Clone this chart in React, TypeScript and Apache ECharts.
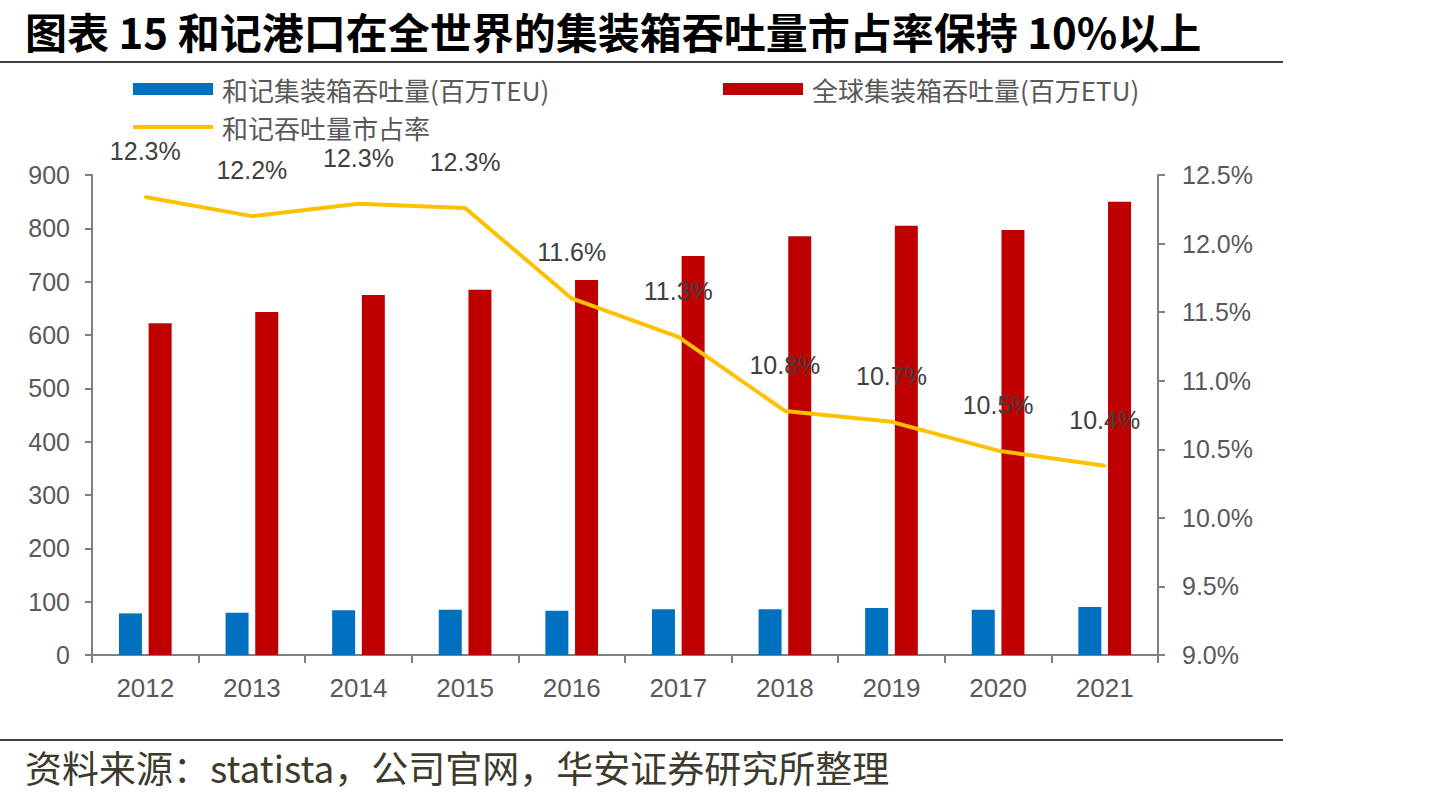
import React, { useEffect, useRef } from "react";
import * as echarts from "echarts";

const years = ["2012", "2013", "2014", "2015", "2016", "2017", "2018", "2019", "2020", "2021"];
const hutchisonTEU = [78, 79, 84, 85, 83, 86, 86, 88, 85, 90];
const globalTEU = [622, 643, 675, 685, 703, 748, 785, 805, 797, 850];
const marketShare = [12.34, 12.2, 12.29, 12.26, 11.6, 11.32, 10.78, 10.7, 10.49, 10.38];

const seriesNames = ["和记集装箱吞吐量(百万TEU)", "全球集装箱吞吐量(百万ETU)", "和记吞吐量市占率"];
const titleText = "图表 15 和记港口在全世界的集装箱吞吐量市占率保持 10%以上";
const sourceText = "资料来源：statista，公司官网，华安证券研究所整理";

const CJK = '"Noto Sans CJK SC", "Noto Sans", sans-serif';
const NUM = '"Liberation Sans", Arial, sans-serif';

export default function App() {
  const ref = useRef<HTMLDivElement>(null);
  useEffect(() => {
    if (!ref.current) return;
    const chart = echarts.init(ref.current, null, { renderer: "svg" });
    const axisColor = "#808080";
    const labelColor = "#595959";
    const legendCommon = {
      orient: "horizontal" as const,
      padding: 0,
      itemWidth: 80,
      itemHeight: 12,
      textStyle: { color: labelColor, fontSize: 26, fontFamily: CJK, padding: [0, 0, 0, 4] },
      selectedMode: false,
    };
    chart.setOption({
      animation: false,
      backgroundColor: "#ffffff",
      graphic: [
        {
          type: "text",
          x: 25,
          y: 30,
          style: {
            text: titleText,
            fontSize: 42,
            fontWeight: "bold",
            fontFamily: CJK,
            fill: "#000000",
            verticalAlign: "middle",
            align: "left",
          },
        },
        { type: "line", shape: { x1: 0, y1: 62, x2: 1283, y2: 62 }, style: { stroke: "#404040", lineWidth: 2 } },
        { type: "line", shape: { x1: 0, y1: 740, x2: 1283, y2: 740 }, style: { stroke: "#404040", lineWidth: 2 } },
        {
          type: "text",
          x: 25,
          y: 767,
          style: {
            text: sourceText,
            fontSize: 37,
            fontFamily: CJK,
            fill: "#3d3b2c",
            verticalAlign: "middle",
            align: "left",
          },
        },
      ],
      legend: [
        { ...legendCommon, data: [{ name: seriesNames[0], icon: "rect" }], left: 133, top: 76 },
        { ...legendCommon, data: [{ name: seriesNames[1], icon: "rect" }], left: 723, top: 76 },
        {
          ...legendCommon,
          itemHeight: 4,
          data: [{ name: seriesNames[2], icon: "rect" }],
          left: 133,
          top: 114,
        },
      ],
      grid: { left: 92, right: 281, top: 175, bottom: 143 },
      xAxis: {
        type: "category",
        data: years,
        boundaryGap: true,
        axisLine: { lineStyle: { color: axisColor, width: 2 } },
        axisTick: { show: true, length: 8, lineStyle: { color: axisColor, width: 2 } },
        axisLabel: { color: labelColor, fontSize: 26, fontFamily: NUM, margin: 20 },
      },
      yAxis: [
        {
          type: "value",
          min: 0,
          max: 900,
          interval: 100,
          splitLine: { show: false },
          axisLine: { show: true, lineStyle: { color: axisColor, width: 2 } },
          axisTick: { show: true, length: 7, lineStyle: { color: axisColor, width: 2 } },
          axisLabel: { color: labelColor, fontSize: 25, fontFamily: NUM, margin: 22 },
        },
        {
          type: "value",
          min: 9,
          max: 12.5,
          interval: 0.5,
          position: "right",
          splitLine: { show: false },
          axisLine: { show: true, lineStyle: { color: axisColor, width: 2 } },
          axisTick: { show: true, length: 7, lineStyle: { color: axisColor, width: 2 } },
          axisLabel: {
            color: labelColor,
            fontSize: 25,
            fontFamily: NUM,
            margin: 24,
            formatter: (v: number) => v.toFixed(1) + "%",
          },
        },
      ],
      series: [
        {
          name: seriesNames[0],
          type: "bar",
          data: hutchisonTEU,
          barWidth: 23,
          barGap: "29%",
          itemStyle: { color: "#0070C0" },
        },
        {
          name: seriesNames[1],
          type: "bar",
          data: globalTEU,
          barWidth: 23,
          barGap: "29%",
          itemStyle: { color: "#C00000" },
        },
        {
          name: seriesNames[2],
          type: "line",
          yAxisIndex: 1,
          data: marketShare,
          symbol: "circle",
          symbolSize: 3,
          showSymbol: true,
          lineStyle: { color: "#FFC000", width: 4 },
          itemStyle: { color: "#FFC000" },
          label: {
            show: true,
            position: "top",
            distance: 32,
            color: "#404040",
            fontSize: 25,
            fontFamily: NUM,
            formatter: (p: any) => Number(p.value).toFixed(1) + "%",
          },
          labelLayout: { hideOverlap: false },
        },
      ],
    });
    return () => chart.dispose();
  }, []);
  return (
    <div
      ref={ref}
      style={{ position: "absolute", left: 0, top: 0, width: 1439, height: 798, background: "#fff" }}
    />
  );
}
